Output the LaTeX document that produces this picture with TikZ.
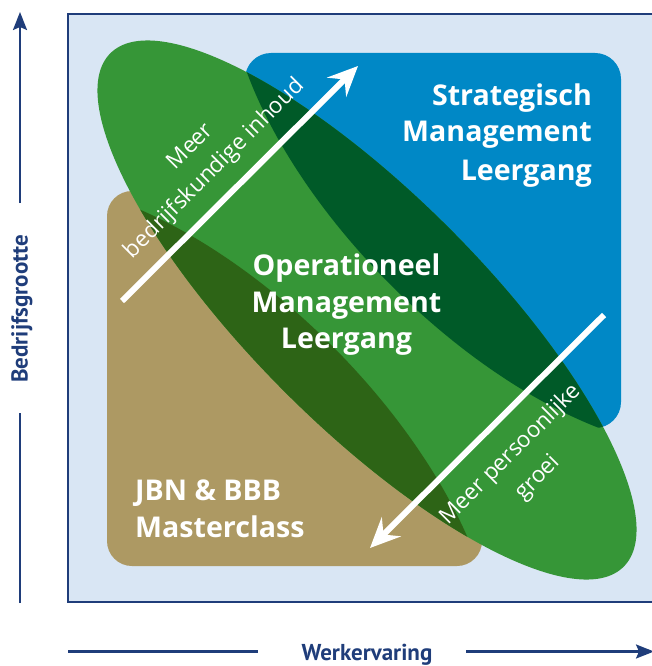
\documentclass[tikz,border=0pt]{standalone}
\usepackage{fontspec}
\setmainfont{Open Sans}
\newfontfamily\ptsans{PT Sans}
\usetikzlibrary{arrows.meta}
\definecolor{bgblue}{RGB}{217,230,244}
\definecolor{navy}{RGB}{31,61,122}
\definecolor{stratblue}{RGB}{0,136,198}
\definecolor{opgreen}{RGB}{54,150,55}
\definecolor{darkgreen}{RGB}{0,90,40}
\definecolor{tanc}{RGB}{173,153,99}
\definecolor{olive}{RGB}{45,100,22}
\tikzset{
  title/.style={text=white, font=\fontsize{28.6}{34}\selectfont\bfseries, inner sep=0pt},
  lbl/.style={text=white, font=\fontsize{22.5}{27}\selectfont, rotate=45, inner sep=0pt, anchor=base},
  axislbl/.style={text=navy, font=\ptsans\fontsize{23}{27}\selectfont\bfseries, inner sep=0pt},
  bigarrow/.style={draw=white, line width=6pt, -{Stealth[length=30pt,width=27pt,inset=11pt]}},
  axisline/.style={draw=navy, line width=2.2pt},
  axisarrow/.style={axisline, -{Stealth[length=18pt,width=14pt,inset=3pt]}}
}
\begin{document}
\begin{tikzpicture}[x=1pt,y=-1pt]
\useasboundingbox (0,0) rectangle (652,666);
\begin{scope}
\clip (0,0) rectangle (652,666);
% background panel
\fill[bgblue] (68,14) rectangle (680,602);
\draw[navy, line width=2.2pt] (680,14) -- (68,14) -- (68,602) -- (680,602);
% blue area
\fill[stratblue, rounded corners=26pt] (245,53) rectangle (621,428);
% tan area, on top only on the lower-left side of the diagonal
\begin{scope}
  \clip (100,43) -- (700,643) -- (-300,643) -- cycle;
  \fill[tanc, rounded corners=25pt] (107,191) rectangle (482,566);
\end{scope}
% green ellipse
\fill[opgreen, rotate around={-45:(367,310)}] (367,310) ellipse [x radius=363pt, y radius=116pt];
% dark green overlap
\begin{scope}
  \clip[rounded corners=26pt] (245,53) rectangle (621,428);
  \clip[rotate around={-45:(367,310)}] (367,310) ellipse [x radius=363pt, y radius=116pt];
  \fill[darkgreen, rotate around={-45:(513,164)}] (513,164) ellipse [x radius=363pt, y radius=172pt];
\end{scope}
% dark olive overlap
\begin{scope}
  \clip[rounded corners=25pt] (107,191) rectangle (482,566);
  \clip[rotate around={-45:(367,310)}] (367,310) ellipse [x radius=363pt, y radius=116pt];
  \fill[olive, rotate around={-45:(210,467)}] (210,467) ellipse [x radius=363pt, y radius=172pt];
\end{scope}
% arrows
\coordinate (a1s) at (122,301);
\coordinate (a1e) at (358,66);
\coordinate (a2s) at (604,315);
\coordinate (a2e) at (370,548);
\draw[bigarrow] (a1s) -- (a1e);
\draw[bigarrow] (a2s) -- (a2e);
% titles
\node[title, anchor=base east] (s1) at (592,105.7) {Strategisch};
\node[title, anchor=base east] (s2) at (592,142) {Management};
\node[title, anchor=base east] (s3) at (592,180) {Leergang};
\node[title, anchor=base] (o1) at (346.5,275) {Operationeel};
\node[title, anchor=base] (o2) at (346.5,312) {Management};
\node[title, anchor=base] (o3) at (346.5,348) {Leergang};
\node[title, anchor=base west] (j1) at (135,500) {JBN \& BBB};
\node[title, anchor=base west] (j2) at (135,537) {Masterclass};
% diagonal labels
\node[lbl] (l1a) at (195,151) {Meer};
\node[lbl] (l1b) at (219,173) {bedrijfskundige inhoud};
\node[lbl] (l2a) at (515,459) {Meer persoonlijke};
\node[lbl] (l2b) at (542,482) {groei};
% axes
\coordinate (v0) at (20,603);
\coordinate (v1) at (20,413);
\coordinate (v2) at (20,203);
\coordinate (v3) at (20,12);
\draw[axisline] (v0) -- (v1);
\draw[axisarrow] (v2) -- (v3);
\node[axislbl, rotate=90] (yl) at (22,309) {Bedrijfsgrootte};
\coordinate (h0) at (68,651.5);
\coordinate (h1) at (258,651.5);
\coordinate (h2) at (466,651.5);
\coordinate (h3) at (654,651.5);
\draw[axisline] (h0) -- (h1);
\draw[axisarrow] (h2) -- (h3);
\node[axislbl, anchor=base] (xl) at (367,660.5) {Werkervaring};
\end{scope}
\end{tikzpicture}
\end{document}
